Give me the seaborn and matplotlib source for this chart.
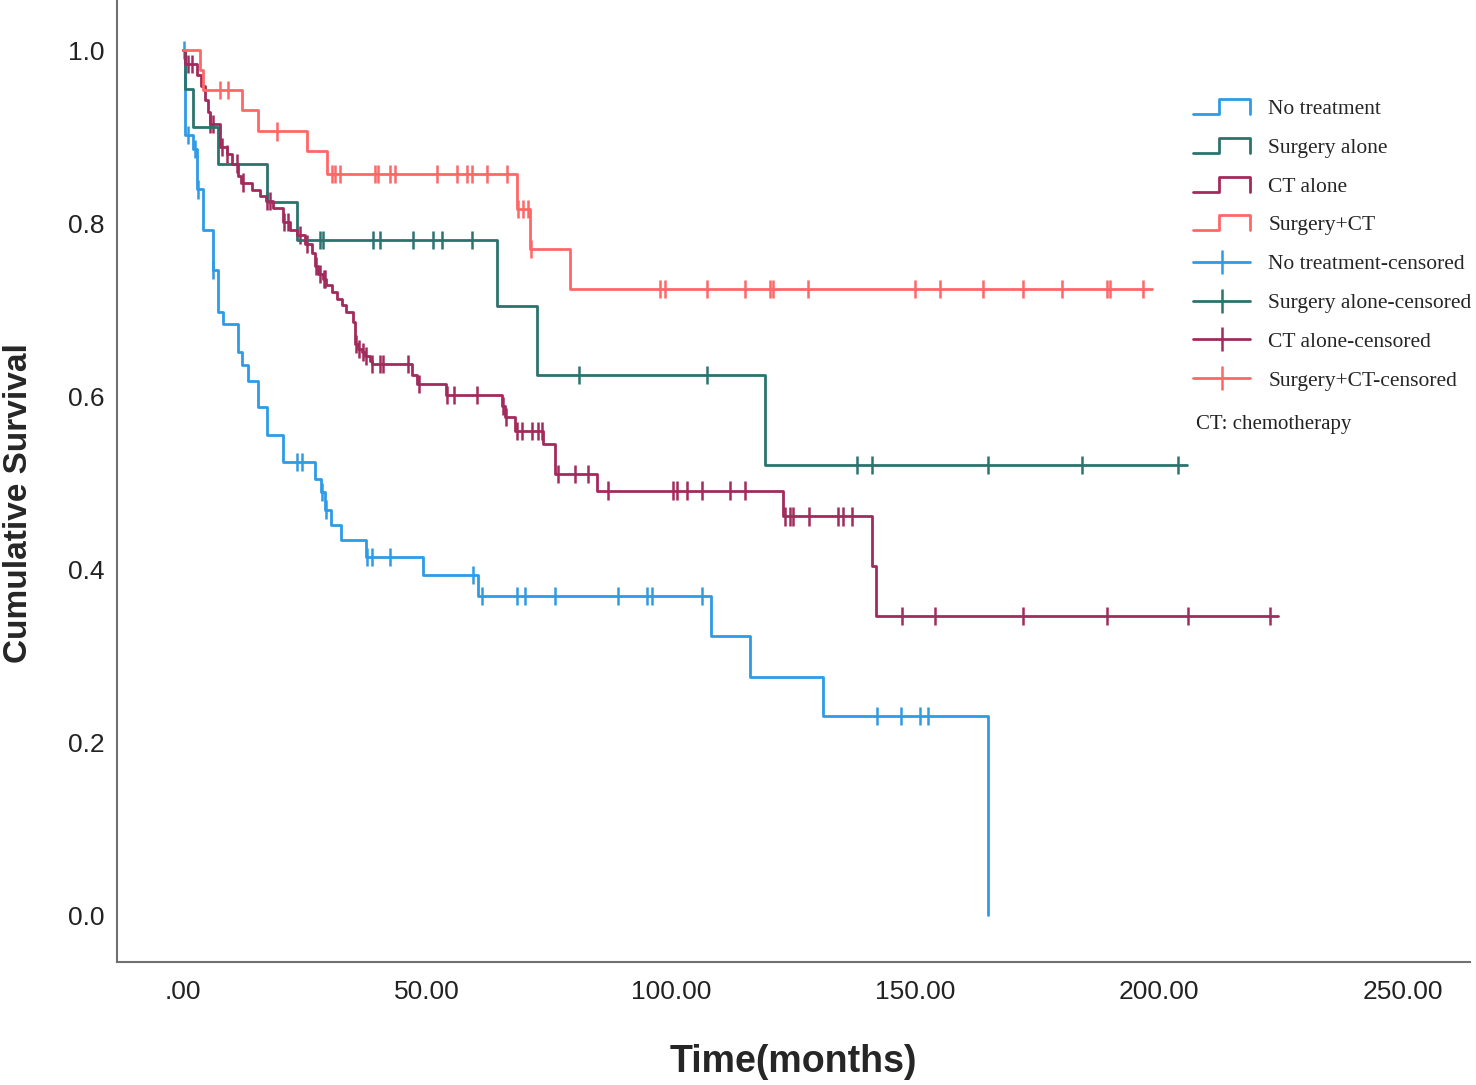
import numpy as np
import pandas as pd
import matplotlib
matplotlib.use("Agg")
import matplotlib.pyplot as plt
import seaborn as sns
from matplotlib.lines import Line2D
from matplotlib.legend_handler import HandlerBase
from matplotlib.font_manager import FontProperties

# ---- data (months, cumulative survival) ----
groups = ["No treatment", "Surgery alone", "CT alone", "Surgery+CT"]

no_tx_time = [0, 0.4, 2.0, 2.9, 4.1, 6.1, 7.2, 8.2, 11.3, 12.1, 13.3, 15.4, 17.2, 20.5,
              27.0, 28.3, 29.2, 30.4, 32.3, 37.5, 49.2, 60.5, 108.2, 116.2, 131.1, 165.0]
no_tx_surv = [1.0, 0.902, 0.886, 0.839, 0.792, 0.746, 0.697, 0.683, 0.651, 0.636, 0.618, 0.587,
              0.555, 0.524, 0.504, 0.489, 0.469, 0.451, 0.434, 0.414, 0.393, 0.369, 0.323,
              0.276, 0.230, 0.0]
no_tx_cens = [0.2, 1.0, 2.4, 3.1, 6.2, 23.3, 24.4, 28.6, 29.4, 37.7, 38.7, 42.4, 59.4, 61.3,
              68.4, 70.1, 76.2, 89.1, 95.1, 96.1, 106.4, 142.2, 147.1, 151.0, 152.7]

surg_time = [0, 0.4, 2.1, 7.2, 17.2, 23.4, 64.3, 72.5, 119.3, 205.7]
surg_surv = [1.0, 0.955, 0.911, 0.868, 0.824, 0.781, 0.704, 0.625, 0.520, 0.520]
surg_cens = [28.1, 28.7, 38.9, 40.4, 47.1, 51.2, 53.1, 59.2, 81.2, 107.4, 138.1, 141.2,
             165.0, 184.2, 203.9]

ct_time = [0, 0.5, 2.8, 3.8, 4.5, 5.2, 5.5, 7.6, 9.0, 10.0, 11.3, 12.0, 14.1, 15.8, 17.1,
           18.5, 20.6, 21.9, 23.3, 25.0, 26.4, 27.0, 27.7, 28.8, 29.4, 30.5, 31.5, 32.5,
           33.5, 34.9, 35.2, 35.9, 36.6, 37.3, 38.3, 38.7, 47.0, 48.0, 54.0, 65.3, 66.0,
           68.0, 73.8, 76.2, 84.8, 123.0, 141.1, 142.1, 224.4]
ct_surv = [1.0, 0.984, 0.971, 0.959, 0.942, 0.928, 0.915, 0.888, 0.880, 0.869, 0.855, 0.847,
           0.838, 0.832, 0.826, 0.818, 0.801, 0.792, 0.786, 0.776, 0.766, 0.751, 0.741,
           0.736, 0.728, 0.720, 0.712, 0.705, 0.697, 0.686, 0.660, 0.655, 0.651, 0.647,
           0.641, 0.637, 0.625, 0.614, 0.601, 0.589, 0.576, 0.560, 0.545, 0.510, 0.491,
           0.461, 0.404, 0.346, 0.346]
ct_cens = [1.0, 1.8, 5.6, 6.2, 8.0, 9.1, 11.0, 12.3, 17.3, 17.8, 20.7, 21.5, 24.0, 25.4,
           27.3, 28.0, 28.9, 29.1, 35.4, 36.0, 36.8, 37.6, 38.8, 40.4, 41.0, 46.1, 48.3,
           54.2, 55.5, 60.2, 65.6, 66.1, 68.4, 69.4, 71.5, 72.8, 73.5, 76.9, 80.3, 83.0,
           87.1, 100.5, 101.2, 103.2, 106.3, 112.1, 115.2, 123.4, 124.4, 125.1, 128.2,
           134.3, 135.3, 137.0, 147.3, 154.1, 172.2, 189.3, 206.0, 222.7]

sct_time = [0, 3.5, 4.2, 12.1, 15.4, 25.4, 29.5, 68.4, 71.1, 79.3, 198.6]
sct_surv = [1.0, 0.977, 0.954, 0.931, 0.906, 0.883, 0.857, 0.816, 0.770, 0.724, 0.724]
sct_cens = [7.6, 9.2, 19.2, 30.5, 31.1, 32.2, 39.3, 40.0, 42.4, 43.4, 52.0, 56.1, 58.2,
            59.2, 62.3, 66.4, 68.6, 69.7, 70.7, 71.3, 97.8, 98.8, 107.4, 115.2, 120.3,
            120.9, 128.1, 150.0, 155.1, 163.9, 172.1, 180.1, 189.3, 190.0, 196.7]

colors = ["#2e9be6", "#2b736e", "#a32a5c", "#ff6767"]

x_ticks = [0, 50, 100, 150, 200, 250]
x_ticklabels = [".00", "50.00", "100.00", "150.00", "200.00", "250.00"]
y_ticks = [0.0, 0.2, 0.4, 0.6, 0.8, 1.0]
y_ticklabels = ["0.0", "0.2", "0.4", "0.6", "0.8", "1.0"]

# ---- tables ----
series = {
    "No treatment": (no_tx_time, no_tx_surv, no_tx_cens),
    "Surgery alone": (surg_time, surg_surv, surg_cens),
    "CT alone": (ct_time, ct_surv, ct_cens),
    "Surgery+CT": (sct_time, sct_surv, sct_cens),
}

curve_rows = []
cens_rows = []
for g in groups:
    t, s, c = series[g]
    for ti, si in zip(t, s):
        curve_rows.append({"group": g, "time": ti, "surv": si})
    t_arr = np.array(t)
    s_arr = np.array(s)
    for ci in c:
        # censored mark sits on the curve at that time
        idx = np.searchsorted(t_arr, ci, side="right") - 1
        cens_rows.append({"group": g, "time": ci, "surv": s_arr[idx]})
curves = pd.DataFrame(curve_rows)
cens = pd.DataFrame(cens_rows)

# ---- plot ----
sns.set_style("white")
plt.rcParams["font.family"] = ["Liberation Sans", "DejaVu Sans"]

fig = plt.figure(figsize=(14.76, 10.85), dpi=100)
ax = fig.add_axes([117 / 1476, 1 - 962 / 1085, (1470 - 117) / 1476, 962 / 1085])

palette = dict(zip(groups, colors))
sns.lineplot(data=curves, x="time", y="surv", hue="group", hue_order=groups,
             palette=palette, drawstyle="steps-post", estimator=None, sort=False,
             linewidth=2, legend=False, ax=ax)
sns.scatterplot(data=cens, x="time", y="surv", hue="group", hue_order=groups,
                palette=palette, marker="|", s=170, linewidth=1.8, legend=False, ax=ax)

ax.set_xlim(-13.5, 263.7)
ax.set_ylim(-0.054, 1.058)
ax.set_xticks(x_ticks)
ax.set_xticklabels(x_ticklabels)
ax.set_yticks(y_ticks)
ax.set_yticklabels(y_ticklabels)
ax.tick_params(axis="both", length=0, labelsize=19, colors="#222222")
ax.tick_params(axis="x", pad=13)
ax.tick_params(axis="y", pad=9)

sns.despine(ax=ax)
for side in ["left", "bottom"]:
    ax.spines[side].set_color("#707070")
    ax.spines[side].set_linewidth(1.5)

ax.set_xlabel("Time(months)", fontsize=27, fontweight="bold", va="center")
ax.set_ylabel("Cumulative Survival", fontsize=24, fontweight="bold", va="center")
ax.xaxis.set_label_coords((793 - 117) / 1353, -(1062 - 962) / 962)
ax.yaxis.set_label_coords((18 - 117) / 1353, (962 - 503) / 962)


class StepHandler(HandlerBase):
    def create_artists(self, legend, orig_handle, xdescent, ydescent, width, height,
                       fontsize, trans):
        x0, y0 = -xdescent, -ydescent
        xs = [x0, x0 + 0.45 * width, x0 + 0.45 * width, x0 + width, x0 + width]
        ys = [y0, y0, y0 + height, y0 + height, y0]
        line = Line2D(xs, ys, color=orig_handle.get_color(),
                      lw=orig_handle.get_linewidth(), transform=trans)
        return [line]


step_handles = [Line2D([], [], color=c, lw=2) for c in colors]
cens_handles = [Line2D([], [], color=c, lw=2, marker="|", markersize=17, markeredgewidth=1.8)
                for c in colors]
labels = groups + [g + "-censored" for g in groups]
handler_map = {h: StepHandler() for h in step_handles}

leg = ax.legend(step_handles + cens_handles, labels, handler_map=handler_map,
                loc="upper left", bbox_to_anchor=(1193 / 1476, 1 - 99 / 1085),
                bbox_transform=fig.transFigure, frameon=False,
                prop=FontProperties(family="Liberation Serif", size=15.5),
                handlelength=2.65, handletextpad=0.85, labelspacing=0.87,
                borderpad=0, borderaxespad=0)

fig.text(1196 / 1476, 1 - 425 / 1085, "CT: chemotherapy", family="Liberation Serif",
         fontsize=15, va="center", ha="left", color="#222222")

fig.savefig("out.png", dpi=100)
